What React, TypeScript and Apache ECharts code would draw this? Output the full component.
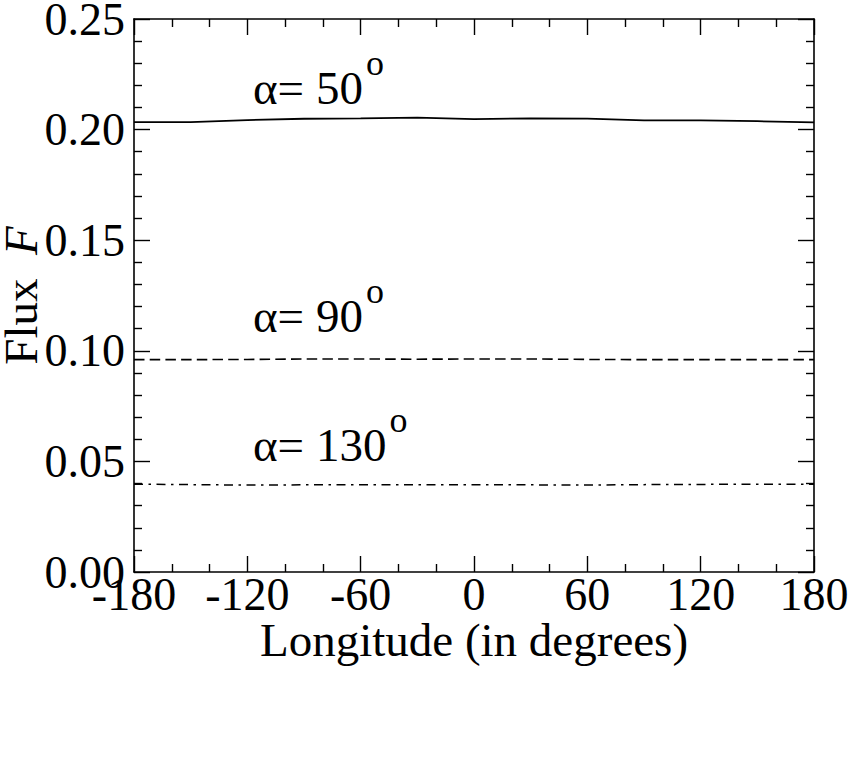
import React, { useEffect, useRef } from "react";
import * as echarts from "echarts";

const longitudes = [-180, -150, -120, -90, -60, -30, 0, 30, 60, 90, 120, 150, 180];
const flux50 = [0.2034, 0.2034, 0.2043, 0.2049, 0.2051, 0.2054, 0.2047, 0.2051, 0.2050, 0.2042, 0.2042, 0.2038, 0.2033];
const flux90 = [0.0960, 0.0960, 0.0961, 0.0963, 0.0963, 0.0962, 0.0963, 0.0963, 0.0961, 0.0960, 0.0960, 0.0960, 0.0960];
const flux130 = [0.0397, 0.0395, 0.0393, 0.0394, 0.0394, 0.0395, 0.0395, 0.0394, 0.0393, 0.0395, 0.0396, 0.0397, 0.0397];
const seriesNames = ["α= 50", "α= 90", "α= 130"];
const labelAnchors: [number, number][] = [[-117, 0.2190], [-117, 0.1156], [-117, 0.0575]];
const xTicks = { min: -180, max: 180, interval: 60 };
const yTicks = { min: 0, max: 0.25, interval: 0.05 };

const FONT = "Liberation Serif";

export default function App() {
  const ref = useRef<HTMLDivElement>(null);
  useEffect(() => {
    if (!ref.current) return;
    const chart = echarts.init(ref.current, null, { renderer: "svg" });
    const axisLine = { show: true, onZero: false, lineStyle: { color: "#000", width: 1.6 } };
    const axisTick = { show: true, inside: true, length: 16, lineStyle: { color: "#000", width: 1.4 } };
    const minorTick = (n: number) => ({ show: true, splitNumber: n, length: 8, lineStyle: { color: "#000", width: 1.4 } });
    const labelStyle = { color: "#000", fontFamily: FONT, fontSize: 46 };
    const mk = (i: number) => ({
      symbol: "circle",
      symbolSize: 0,
      silent: true,
      data: [
        {
          coord: labelAnchors[i],
          label: {
            show: true,
            position: "right",
            distance: 0,
            formatter: "{a|" + seriesNames[i] + "}{s|o}",
            rich: {
              a: { fontFamily: FONT, fontSize: 47, color: "#000", lineHeight: 86, verticalAlign: "middle" },
              s: { fontFamily: FONT, fontSize: 36, color: "#000", lineHeight: 16, verticalAlign: "top", padding: [0, 0, 0, 3] },
            },
          },
        },
      ],
    });
    const toData = (vals: number[]) => longitudes.map((x, i) => [x, vals[i]]);
    chart.setOption({
      animation: false,
      grid: { left: 134, right: 38, top: 19, bottom: 198, containLabel: false, outerBoundsMode: "none" },
      xAxis: [
        {
          type: "value",
          position: "bottom",
          ...xTicks,
          name: "Longitude (in degrees)",
          nameLocation: "middle",
          nameGap: 44,
          nameMoveOverlap: false,
          nameTextStyle: { color: "#000", fontFamily: FONT, fontSize: 47 },
          axisLine,
          axisTick,
          minorTick: minorTick(3),
          splitLine: { show: false },
          axisLabel: { ...labelStyle, margin: -1, formatter: (v: number) => String(v) },
        },
        {
          type: "value",
          position: "top",
          ...xTicks,
          axisLine,
          axisTick,
          minorTick: minorTick(3),
          splitLine: { show: false },
          axisLabel: { show: false },
        },
      ],
      yAxis: [
        {
          type: "value",
          position: "left",
          ...yTicks,
          name: "Flux  {i|F}",
          nameLocation: "middle",
          nameGap: 90,
          nameMoveOverlap: false,
          nameTextStyle: {
            color: "#000",
            fontFamily: FONT,
            fontSize: 47,
            rich: { i: { fontFamily: FONT, fontSize: 47, fontStyle: "italic", color: "#000" } },
          },
          axisLine,
          axisTick,
          minorTick: minorTick(5),
          splitLine: { show: false },
          axisLabel: { ...labelStyle, margin: 9, formatter: (v: number) => v.toFixed(2) },
        },
        {
          type: "value",
          position: "right",
          ...yTicks,
          axisLine,
          axisTick,
          minorTick: minorTick(5),
          splitLine: { show: false },
          axisLabel: { show: false },
        },
      ],
      series: [
        {
          type: "line",
          name: seriesNames[0],
          data: toData(flux50),
          showSymbol: false,
          smooth: false,
          lineStyle: { color: "#000", width: 1.8, type: "solid" },
          markPoint: mk(0),
        },
        {
          type: "line",
          name: seriesNames[1],
          data: toData(flux90),
          showSymbol: false,
          lineStyle: { color: "#000", width: 1.6, type: [10.5, 5.2] },
          markPoint: mk(1),
        },
        {
          type: "line",
          name: seriesNames[2],
          data: toData(flux130),
          showSymbol: false,
          lineStyle: { color: "#000", width: 1.5, type: [9, 5.5, 2.5, 5.5] },
          markPoint: mk(2),
        },
      ],
    });
    return () => chart.dispose();
  }, []);
  return (
    <div
      ref={ref}
      style={{ position: "absolute", left: 0, top: 0, width: 852, height: 770, background: "#fff" }}
    />
  );
}
